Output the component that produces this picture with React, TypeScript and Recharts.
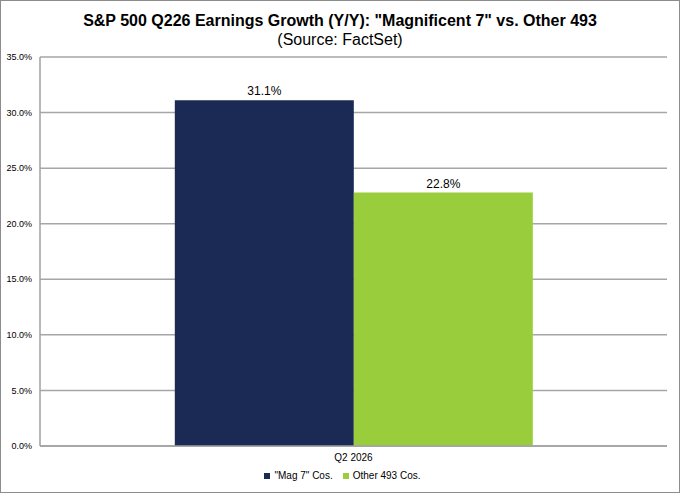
import React from 'react';
import {
  BarChart,
  Bar,
  XAxis,
  YAxis,
  CartesianGrid,
  Legend,
  LabelList,
} from 'recharts';

const categories = ['Q2 2026'];
const mag7Values = [31.1];
const otherValues = [22.8];
const yTicks = [0, 5, 10, 15, 20, 25, 30, 35];

const chartData = categories.map((name, i) => ({
  name,
  mag7: mag7Values[i],
  other: otherValues[i],
}));

const FONT = '"Liberation Sans", Arial, sans-serif';
const pct = (v: number) => `${Number(v).toFixed(1)}%`;

export default function App() {
  return (
    <div
      style={{
        position: 'absolute',
        left: 0,
        top: 0,
        width: 680,
        height: 493,
        boxSizing: 'border-box',
        border: '1px solid #8c8c8c',
        background: '#fff',
        fontFamily: FONT,
      }}
    >
      <div
        style={{
          position: 'absolute',
          left: 0,
          width: 678,
          top: 10,
          textAlign: 'center',
          fontWeight: 'bold',
          fontSize: 16,
          lineHeight: '19px',
          color: '#000',
        }}
      >
        S&amp;P 500 Q226 Earnings Growth (Y/Y): "Magnificent 7" vs. Other 493
      </div>
      <div
        style={{
          position: 'absolute',
          left: 0,
          width: 678,
          top: 29,
          textAlign: 'center',
          fontSize: 16,
          lineHeight: '19px',
          color: '#000',
        }}
      >
        (Source: FactSet)
      </div>
      <div style={{ position: 'absolute', left: -1, top: -1 }}>
        <BarChart
          width={680}
          height={493}
          data={chartData}
          margin={{ top: 57, right: 13, left: 0, bottom: 5 }}
          barCategoryGap="21.5%"
          barGap={0}
        >
          <CartesianGrid vertical={false} stroke="#a6a6a6" strokeWidth={1.5} />
          <XAxis
            dataKey="name"
            height={24}
            tickLine={false}
            axisLine={{ stroke: '#a0a0a0', strokeWidth: 1.5 }}
            tick={{ fill: '#000', fontSize: 10, fontFamily: FONT }}
          />
          <YAxis
            width={40}
            domain={[0, 35]}
            ticks={yTicks}
            tickFormatter={pct}
            tickLine={false}
            axisLine={{ stroke: '#a0a0a0', strokeWidth: 1.5 }}
            tick={{ fill: '#000', fontSize: 9, fontFamily: FONT }}
          />
          <Legend
            verticalAlign="bottom"
            height={18}
            iconType="square"
            iconSize={6}
            wrapperStyle={{ fontSize: 10, fontFamily: FONT, paddingLeft: 14 }}
            formatter={(value) => <span style={{ color: '#000' }}>{value}</span>}
          />
          <Bar dataKey="mag7" name={'"Mag 7" Cos.'} fill="#1a2a55" isAnimationActive={false}>
            <LabelList
              dataKey="mag7"
              position="top"
              offset={5}
              formatter={pct}
              style={{ fill: '#000', fontSize: 12, fontFamily: FONT }}
            />
          </Bar>
          <Bar dataKey="other" name="Other 493 Cos." fill="#9acd3c" isAnimationActive={false}>
            <LabelList
              dataKey="other"
              position="top"
              offset={5}
              formatter={pct}
              style={{ fill: '#000', fontSize: 12, fontFamily: FONT }}
            />
          </Bar>
        </BarChart>
      </div>
    </div>
  );
}
